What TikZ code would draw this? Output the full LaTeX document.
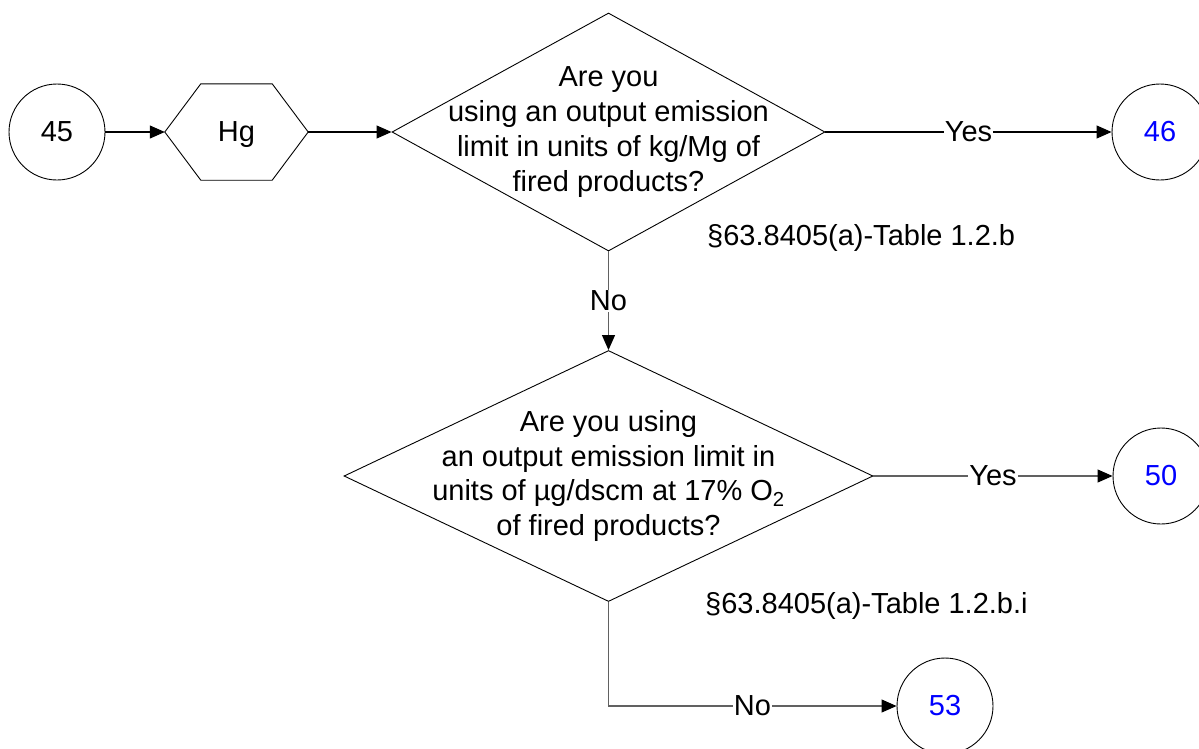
\documentclass[tikz,border=0pt]{standalone}
\usepackage{fontspec}
\setmainfont{Liberation Sans}
\usetikzlibrary{arrows.meta,shapes.geometric}
\begin{document}
\begin{tikzpicture}[x=1pt,y=-1pt,
  every node/.style={font=\fontsize{29}{34.8}\selectfont},
  conn/.style={line width=1.1pt, -{Triangle[length=15pt,width=13pt]}},
  gconn/.style={conn, draw=black!62, -{Triangle[length=15pt,width=13pt,fill=black,color=black]}},
  circ/.style={draw, circle, minimum size=96pt, inner sep=0pt, line width=0.9pt},
  dia/.style={draw, diamond, inner sep=0pt, line width=0.9pt},
  lbl/.style={fill=white, inner sep=1pt},
  ref/.style={anchor=base west, inner sep=0pt}
]
\useasboundingbox (0,0) rectangle (1199,748);
\node[circ] (c45) at (57,132) {45};
\node[minimum width=143pt, minimum height=96pt, inner sep=0pt, text depth=0pt] (hg) at (236.5,132) {Hg};
\draw[line width=0.9pt] (hg.west) -- ([xshift=36pt]hg.north west) -- ([xshift=-36pt]hg.north east) -- (hg.east) -- ([xshift=-36pt]hg.south east) -- ([xshift=36pt]hg.south west) -- cycle;
\node[dia, minimum width=433pt, minimum height=238pt] (d1) at (608.5,132) {};
\node[align=center, inner sep=0pt] (t1) at (d1.center) {Are you\\using an output emission\\limit in units of kg/Mg of\\fired products?};
\node[circ, text=blue] (c46) at (1160,132) {46};
\node[ref] (r1) at (707,245) {§63.8405(a)-Table 1.2.b};
\node[dia, minimum width=529pt, minimum height=251pt] (d2) at (608.5,476) {};
\node[align=center, inner sep=0pt] (t2) at (d2.center) {Are you using\\an output emission limit in\\units of µg/dscm at 17\% O\textsubscript{2}\\of fired products?};
\node[circ, text=blue] (c50) at (1161,476) {50};
\node[ref] (r2) at (705,613) {§63.8405(a)-Table 1.2.b.i};
\node[circ, text=blue] (c53) at (945,706) {53};
\draw[conn] (c45) -- (hg.west);
\draw[conn] (hg.east) -- (d1.west);
\draw[conn] (d1.east) -- node[lbl]{Yes} (c46);
\draw[gconn] (d1.south) -- node[lbl]{No} (d2.north);
\draw[gconn] (d2.east) -- node[lbl]{Yes} (c50);
\draw[gconn] (d2.south) |- node[lbl, pos=0.75]{No} (c53);
\end{tikzpicture}
\end{document}
